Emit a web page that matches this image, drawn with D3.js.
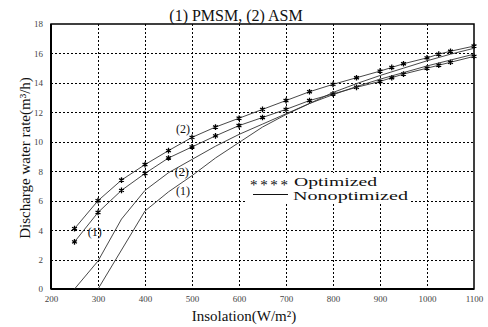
<!DOCTYPE html>
<html><head><meta charset="utf-8">
<script src="https://cdn.jsdelivr.net/npm/d3@7"></script>
<style>body{margin:0;background:#fff}svg{display:block}</style>
</head><body>
<svg id="c" width="488" height="327"></svg>
<script>
const xTicks = [200,300,400,500,600,700,800,900,1000,1100];
const yTicks = [0,2,4,6,8,10,12,14,16,18];
const optX = [250,300,350,400,450,500,550,600,650,700,750,800,850,900,925,950,1000,1025,1050,1100];
const optASM = [4.1,6.0,7.4,8.45,9.4,10.3,11.0,11.6,12.2,12.8,13.4,13.9,14.35,14.8,15.05,15.3,15.7,15.95,16.15,16.5];
const optPMSM = [3.2,5.2,6.7,7.85,8.9,9.65,10.4,11.1,11.65,12.2,12.8,13.25,13.7,14.1,14.35,14.6,15.0,15.2,15.4,15.8];
const nonASMx = [250,300,350,400,450,500,550,600,650,700,750,800,850,900,950,1000,1050,1100];
const nonASM = [0,1.9,4.75,6.7,7.9,8.8,9.7,10.5,11.2,11.9,12.6,13.2,13.75,14.25,14.7,15.15,15.55,15.95];
const nonPMSMx = [300,400,450,500,550,600,650,700,750,800,850,900,950,1000,1050,1100];
const nonPMSM = [0,5.3,6.6,7.7,8.9,9.95,11.0,11.85,12.6,13.35,13.95,14.5,15.0,15.5,15.95,16.35];
const title = "(1) PMSM, (2) ASM";
const xLabel = "Insolation(W/m²)";
const yLabel = "Discharge water rate(m³/h)";
const curveLabels = [
  {t:"(2)", x:481, y:10.9},
  {t:"(2)", x:478, y:7.95},
  {t:"(1)", x:481, y:6.65},
  {t:"(1)", x:293, y:3.9}
];
const legendItems = ["Optimized","Nonoptimized"];

const svg = d3.select("#c");
const L=51, R=474, T=24, B=289;
const x = d3.scaleLinear().domain([200,1100]).range([L,R]);
const y = d3.scaleLinear().domain([0,18]).range([B,T]);
const serif = "'Liberation Serif','DejaVu Serif',serif";

// grid
const grid = svg.append("g").attr("class","grid");
grid.selectAll("line.vg").data(xTicks.slice(1,-1)).enter().append("line").attr("class","vg")
  .attr("x1",d=>Math.round(x(d))+0.5).attr("x2",d=>Math.round(x(d))+0.5).attr("y1",T).attr("y2",B)
  .attr("stroke","#000").attr("stroke-width",1).attr("stroke-dasharray","2,2");
grid.selectAll("line.hg").data(yTicks.slice(1,-1)).enter().append("line").attr("class","hg")
  .attr("x1",L).attr("x2",R).attr("y1",d=>Math.round(y(d))+0.5).attr("y2",d=>Math.round(y(d))+0.5)
  .attr("stroke","#000").attr("stroke-width",1).attr("stroke-dasharray","2,2");

// legend background
svg.append("rect").attr("x",247).attr("y",173).attr("width",163).attr("height",31).attr("fill","#fff");

// axes
const xa = svg.append("g").attr("transform",`translate(0,${B})`)
  .call(d3.axisBottom(x).tickValues(xTicks).tickSize(0).tickPadding(7).tickFormat(d3.format("d")));
const ya = svg.append("g").attr("transform",`translate(${L},0)`)
  .call(d3.axisLeft(y).tickValues(yTicks).tickSize(0).tickPadding(8).tickFormat(d3.format("d")));
[xa,ya].forEach(a=>{
  a.select(".domain").remove();
  a.selectAll("text").attr("font-family",serif).attr("font-size",9).attr("fill","#444");
});
// box
svg.append("rect").attr("x",L).attr("y",T).attr("width",R-L).attr("height",B-T)
  .attr("fill","none").attr("stroke","#000").attr("stroke-width",1.5);
svg.append("line").attr("x1",L).attr("x2",L).attr("y1",T).attr("y2",B).attr("stroke","#000").attr("stroke-width",2);
svg.append("line").attr("x1",L).attr("x2",R).attr("y1",B).attr("y2",B).attr("stroke","#000").attr("stroke-width",2);

// lines
const line = d3.line().x(d=>x(d[0])).y(d=>y(d[1]));
const series = [
  {xs:optX, ys:optASM, m:true},
  {xs:optX, ys:optPMSM, m:true},
  {xs:nonASMx, ys:nonASM, m:false},
  {xs:nonPMSMx, ys:nonPMSM, m:false}
];
series.forEach(s=>{
  const pts = s.xs.map((v,i)=>[v,s.ys[i]]);
  svg.append("path").attr("d",line(pts)).attr("fill","none")
    .attr("stroke","#333").attr("stroke-width",0.9);
  if(s.m){
    svg.append("g").selectAll("path").data(pts).enter().append("path")
      .attr("transform",d=>`translate(${x(d[0])},${y(d[1])})`)
      .attr("d",d3.symbol(d3.symbolAsterisk,22))
      .attr("fill","none").attr("stroke","#000").attr("stroke-width",1.3);
  }
});

// curve labels
svg.append("g").selectAll("text").data(curveLabels).enter().append("text")
  .attr("x",d=>x(d.x)).attr("y",d=>y(d.y)).attr("dy","0.35em")
  .attr("text-anchor","middle").attr("font-family",serif).attr("font-size",12)
  .attr("fill","#111").text(d=>d.t);

// legend
svg.append("text").attr("x",250).attr("y",189.5).attr("font-family",serif).attr("font-size",15)
  .attr("textLength",38).attr("lengthAdjust","spacing").attr("fill","#111").text("****");
svg.append("text").attr("x",294).attr("y",185.5).attr("font-family",serif).attr("font-size",13)
  .attr("textLength",83).attr("lengthAdjust","spacingAndGlyphs").attr("fill","#111").text(legendItems[0]);
svg.append("line").attr("x1",253).attr("x2",288).attr("y1",194.5).attr("y2",194.5)
  .attr("stroke","#111").attr("stroke-width",1.2);
svg.append("text").attr("x",293).attr("y",200).attr("font-family",serif).attr("font-size",13)
  .attr("textLength",115).attr("lengthAdjust","spacingAndGlyphs").attr("fill","#111").text(legendItems[1]);

// titles
svg.append("text").attr("x",236).attr("y",21).attr("text-anchor","middle")
  .attr("font-family",serif).attr("font-size",16).attr("fill","#111").text(title);
svg.append("text").attr("x",244).attr("y",321).attr("text-anchor","middle")
  .attr("font-family",serif).attr("font-size",15).attr("fill","#111").text(xLabel);
svg.append("text").attr("transform","translate(30,158) rotate(-90)").attr("text-anchor","middle")
  .attr("font-family",serif).attr("font-size",15).attr("fill","#111").text(yLabel);
</script>
</body></html>
